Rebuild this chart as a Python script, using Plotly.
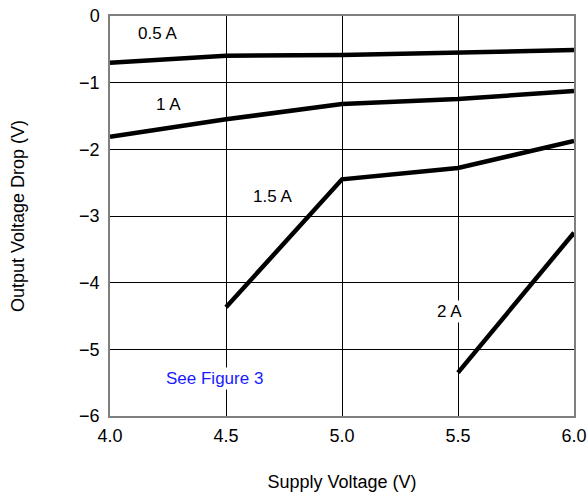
import plotly.graph_objects as go

supply_v = [4.0, 4.5, 5.0, 5.5, 6.0]

drop_05a = [-0.70, -0.595, -0.585, -0.55, -0.51]
drop_1a = [-1.81, -1.55, -1.32, -1.245, -1.125]
v_15a = [4.5, 5.0, 5.5, 6.0]
drop_15a = [-4.37, -2.45, -2.28, -1.875]
v_2a = [5.5, 6.0]
drop_2a = [-5.35, -3.25]

x_ticks = [4.0, 4.5, 5.0, 5.5, 6.0]
x_ticklabels = ["4.0", "4.5", "5.0", "5.5", "6.0"]
y_ticks = [0, -1, -2, -3, -4, -5, -6]
y_ticklabels = ["0", "\u22121", "\u22122", "\u22123", "\u22124", "\u22125", "\u22126"]

series_labels = ["0.5 A", "1 A", "1.5 A", "2 A"]
label_x = [4.205, 4.25, 4.70, 5.465]
label_y = [-0.26, -1.32, -2.70, -4.43]

FONT = "Liberation Sans, Arial, Helvetica, sans-serif"

fig = go.Figure()
for xs, ys, name in [(supply_v, drop_05a, "0.5 A"), (supply_v, drop_1a, "1 A"),
                     (v_15a, drop_15a, "1.5 A"), (v_2a, drop_2a, "2 A")]:
    fig.add_trace(go.Scatter(x=xs, y=ys, mode="lines", name=name,
                             line=dict(color="black", width=4.5),
                             showlegend=False, hoverinfo="skip"))

for t, lx, ly in zip(series_labels, label_x, label_y):
    fig.add_annotation(x=lx, y=ly, text=t, showarrow=False,
                       font=dict(family=FONT, size=17, color="black"),
                       bgcolor="white", borderpad=1)

fig.add_annotation(x=4.45, y=-5.44, text="See Figure 3", showarrow=False,
                   font=dict(family=FONT, size=17, color="#1a1aff"),
                   bgcolor="white", borderpad=1)

fig.update_layout(
    width=588, height=496,
    margin=dict(l=110, r=14, t=16, b=80, autoexpand=False),
    paper_bgcolor="white", plot_bgcolor="white",
    font=dict(family=FONT, size=18, color="black"),
    showlegend=False,
)
fig.update_xaxes(
    range=[4, 6], tickvals=x_ticks, ticktext=x_ticklabels,
    showgrid=True, gridcolor="black", gridwidth=1,
    showline=True, linecolor="#7f7f7f", linewidth=1.5, mirror=True,
    ticks="outside", ticklen=3, tickcolor="rgba(0,0,0,0)",
    zeroline=False, automargin=False,
    title=dict(text="Supply Voltage (V)", standoff=30, font=dict(size=18)),
)
fig.update_yaxes(
    range=[-6, 0], tickvals=y_ticks, ticktext=y_ticklabels,
    showgrid=True, gridcolor="black", gridwidth=1,
    showline=True, linecolor="#7f7f7f", linewidth=1.5, mirror=True,
    ticks="outside", ticklen=5, tickcolor="rgba(0,0,0,0)",
    zeroline=False, automargin=False,
    title=dict(text="Output Voltage Drop (V)", standoff=50, font=dict(size=18)),
)

fig.write_html("out.html",
               config={"displayModeBar": False},
               post_script="document.body.style.margin='0';document.body.style.overflow='hidden';")
